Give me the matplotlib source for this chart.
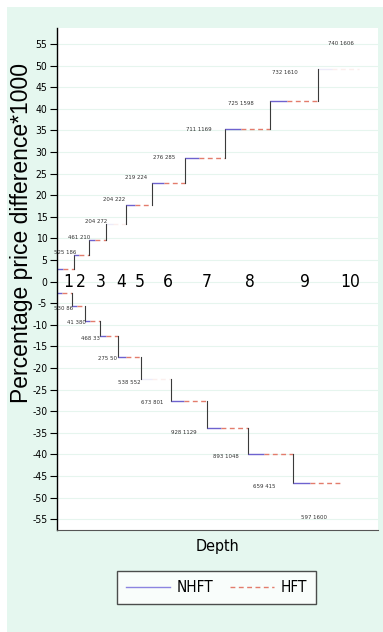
import numpy as np
import matplotlib
matplotlib.use("Agg")
import matplotlib.pyplot as plt
from matplotlib.lines import Line2D
from matplotlib.patches import Rectangle

# step edges (cumulative depth, arbitrary units) and price levels
ask_edges = [0, 5.3, 10.0, 15.3, 21.5, 29.6, 40.0, 52.3, 66.4, 81.3, 94.0]
ask_levels = [3.0, 6.2, 9.7, 13.4, 17.8, 22.9, 28.5, 35.4, 41.9, 49.3]
bid_edges = [0, 4.7, 8.7, 13.4, 19.0, 26.2, 35.5, 46.7, 59.5, 73.5, 89.1]
bid_levels = [-2.7, -5.7, -9.2, -12.6, -17.4, -22.5, -27.6, -34.0, -40.0, -46.7]

depth_names = ["1", "2", "3", "4", "5", "6", "7", "8", "9", "10"]
depth_x = [3.4, 7.5, 13.7, 19.9, 25.9, 34.6, 46.7, 60.1, 77.3, 91.3]

ask_labels = ["525 186", "461 210", "204 272", "204 222", "219 224",
              "276 285", "711 1169", "725 1598", "732 1610", "740 1606"]
ask_lab_x = [2.5, 6.9, 12.1, 17.8, 24.6, 33.3, 44.2, 57.3, 71.0, 88.5]
ask_lab_y = [6.8, 10.3, 14.0, 18.9, 24.0, 28.8, 35.3, 41.3, 48.3, 55.2]

bid_labels = ["530 86", "41 380", "468 33", "275 50", "538 552",
              "673 801", "928 1129", "893 1048", "659 415", "597 1600"]
bid_lab_x = [2.2, 5.9, 10.3, 15.6, 22.4, 29.6, 39.6, 52.6, 64.5, 80.1]
bid_lab_y = [-6.2, -9.4, -13.1, -17.7, -23.3, -28.1, -34.9, -40.6, -47.4, -54.5]

yticks = list(range(-55, 60, 5))

NHFT_C = "#6e62cf"
HFT_C = "#e37c6c"
MINT = "#e5f7ef"
narrow = ["DejaVu Sans"]
cond = dict(family=narrow, stretch="condensed")

fig = plt.figure(figsize=(3.83, 6.32), dpi=100, facecolor="white")
fig.patches.append(Rectangle((7 / 383, 0), 1, 1 - 7 / 632, transform=fig.transFigure,
                             facecolor=MINT, edgecolor="none", zorder=-10))
ax = fig.add_axes([57 / 383, 102 / 632, 321 / 383, 502 / 632])
ax.set_facecolor("white")
ax.set_xlim(0, 100)
ax.set_ylim(-57.5, 58.7)


def draw_steps(edges, levels, faint):
    for i, lev in enumerate(levels):
        x0, x1 = edges[i], edges[i + 1]
        xm = x0 + 0.35 * (x1 - x0)
        a = 0.12 if i in faint else 1.0
        ax.plot([x0, xm], [lev, lev], color=NHFT_C, lw=1.0, alpha=a, solid_capstyle="butt")
        ax.plot([xm, x1], [lev, lev], color=HFT_C, lw=1.0, ls=(0, (3.5, 2.5)), alpha=a)
        if i + 1 < len(levels):
            ax.plot([x1, x1], [lev, levels[i + 1]], color="#3a3a3a", lw=0.8)


draw_steps(ask_edges, ask_levels, faint=[3, 9])
draw_steps(bid_edges, bid_levels, faint=[5])

for name, x in zip(depth_names, depth_x):
    ax.text(x, 0, name, ha="center", va="center", fontsize=12.5, **cond)

for t, x, y in zip(ask_labels, ask_lab_x, ask_lab_y):
    ax.text(x, y, t, ha="center", va="center", fontsize=4.3, color="#333333", **cond)
for t, x, y in zip(bid_labels, bid_lab_x, bid_lab_y):
    ax.text(x, y, t, ha="center", va="center", fontsize=4.3, color="#333333", **cond)

ax.set_yticks(yticks)
ax.set_yticklabels([str(v) for v in yticks], fontsize=7.5, **cond)
ax.set_xticks([])
ax.grid(axis="y", color="#e6f5ee", lw=0.8)
ax.set_axisbelow(True)
ax.tick_params(axis="y", length=5, width=0.8, pad=2)
for s in ["top", "right"]:
    ax.spines[s].set_visible(False)
ax.spines["left"].set_linewidth(1.0)
ax.spines["bottom"].set_color("#555555")
ax.spines["bottom"].set_linewidth(0.8)

fig.text(22 / 383, 1 - 233 / 632, "Percentage price difference*1000", rotation=90,
         ha="center", va="center", fontsize=16.5, family=["Liberation Sans", "DejaVu Sans"])
fig.text(217 / 383, 1 - 546 / 632, "Depth", ha="center", va="center", fontsize=11.5, **cond)

handles = [Line2D([], [], color="#8c84e0", lw=1.0),
           Line2D([], [], color=HFT_C, lw=1.0, ls=(0, (3.5, 2.5)))]
leg = fig.legend(handles, ["NHFT", "HFT"], loc="center", ncol=2,
                 bbox_to_anchor=(216.5 / 383, 1 - 587.5 / 632), frameon=True, fancybox=False,
                 prop={"family": narrow, "stretch": "condensed", "size": 11},
                 handlelength=2.9, columnspacing=1.1, borderpad=0.6, handletextpad=0.4)
leg.get_frame().set_edgecolor("#222222")
leg.get_frame().set_linewidth(1.0)

fig.savefig("out.png", dpi=100, facecolor=fig.get_facecolor())
